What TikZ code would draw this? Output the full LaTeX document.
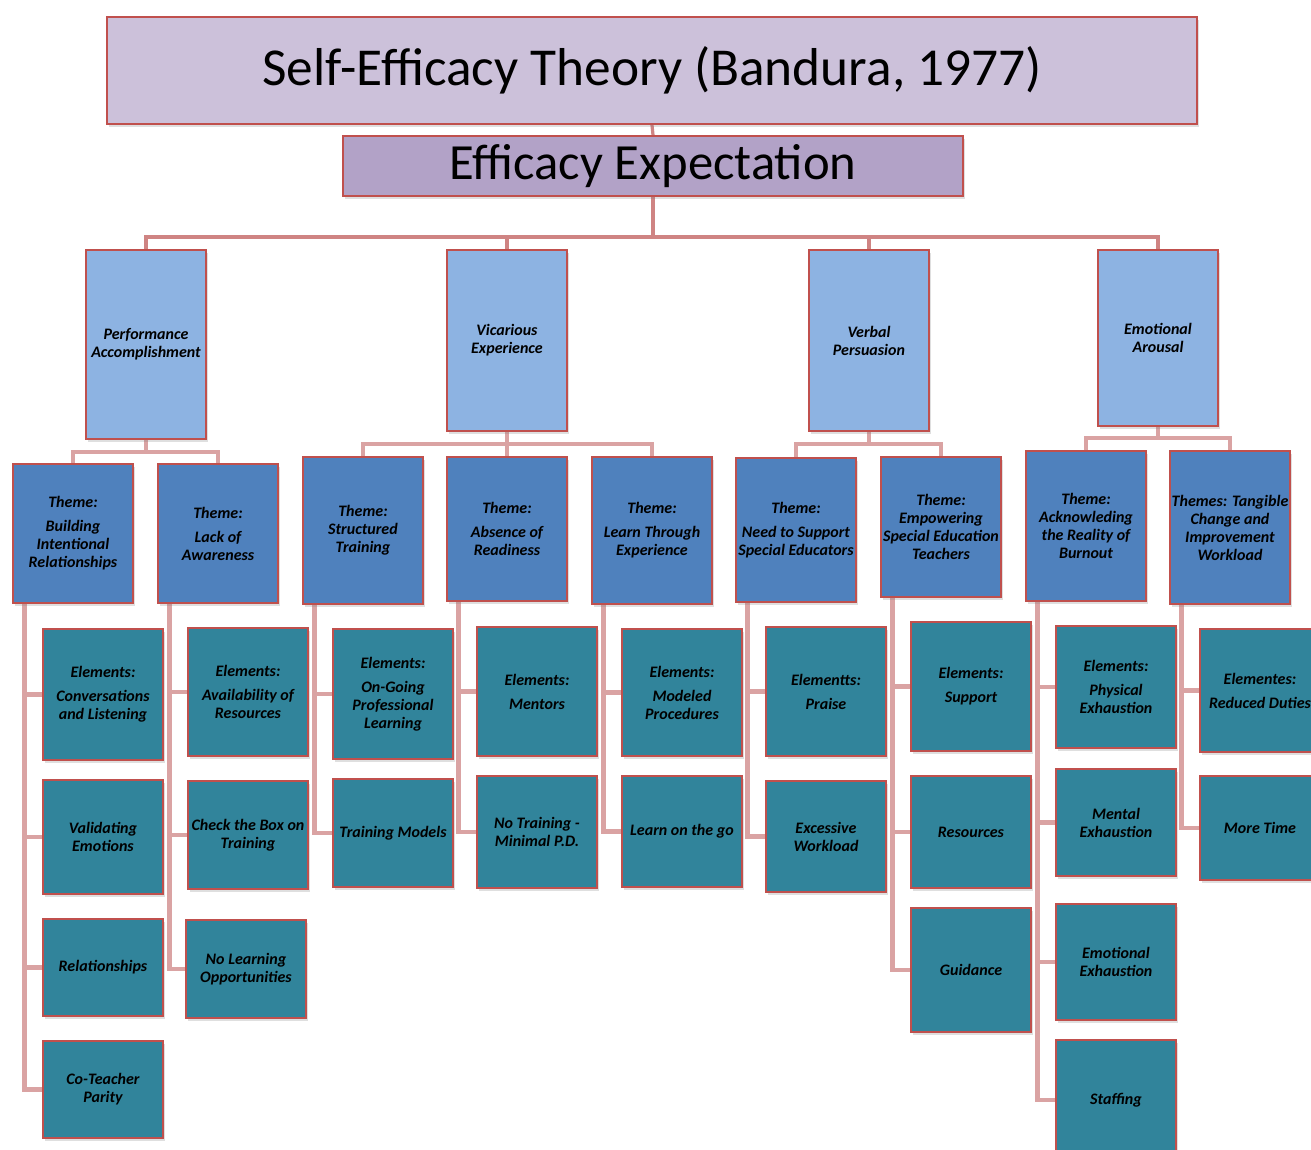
\documentclass[tikz,border=0pt]{standalone}
\usepackage{fontspec}
\setmainfont{Carlito}
\usetikzlibrary{shadows}
\pgfdeclarelayer{bottom}
\pgfdeclarelayer{background}
\pgfsetlayers{bottom,background,main}
\definecolor{bordred}{HTML}{C0504D}
\definecolor{lavtop}{HTML}{CCC1DA}
\definecolor{lavmid}{HTML}{B2A2C7}
\definecolor{lightblue}{HTML}{8DB3E2}
\definecolor{themeblue}{HTML}{4F81BD}
\definecolor{teal}{HTML}{31849B}
\definecolor{connA}{HTML}{CF8483}
\definecolor{connB}{HTML}{DAA3A3}
\tikzset{
  boxbase/.style={draw=bordred, line width=1.5pt, inner sep=0pt, align=center,
    drop shadow={opacity=0.25, shadow xshift=1.2pt, shadow yshift=-2pt}},
  titlebox/.style={boxbase, fill=lavtop, font=\fontsize{40}{46}\selectfont},
  effbox/.style={boxbase, fill=lavmid, font=\fontsize{38}{44}\selectfont},
  catbox/.style={boxbase, fill=lightblue, font=\fontsize{12}{13.5}\selectfont\bfseries\itshape},
  themebox/.style={boxbase, fill=themeblue, font=\fontsize{12}{13.5}\selectfont\bfseries\itshape},
  elembox/.style={boxbase, fill=teal, font=\fontsize{12}{13.5}\selectfont\bfseries\itshape},
  connA/.style={draw=connA, line width=2.4pt},
  connB/.style={draw=connB, line width=3.4pt},
}
\newcommand\bx[7]{%
  \pgfmathsetmacro\bxw{(#4-#2)*0.75}%
  \pgfmathsetmacro\bxh{(#5-#3)*0.75}%
  \node[#6, minimum width=\bxw pt, minimum height=\bxh pt] (#1) at ({(#2+#4)/2},{(#3+#5)/2}) {#7};}
\newcommand\gap{\\[4.5pt]}
\newcommand\spine[2]{%
  \foreach \ee in {#2} {\draw[connB] ([xshift=9.5pt]#1.south west) |- (\ee.west);}}
\begin{document}
\begin{tikzpicture}[x=0.75pt,y=-0.75pt]
\useasboundingbox (0,0) rectangle (1311,1150);
\begin{pgfonlayer}{bottom}
\fill[white] (0,0) rectangle (1311,1150);
\end{pgfonlayer}
\clip (0,0) rectangle (1311,1150);
% bus levels
\coordinate (bus0) at (0,237);
\coordinate (busPA) at (0,452);
\coordinate (busVE) at (0,444);
\coordinate (busVP) at (0,444);
\coordinate (busEA) at (0,438);

% top
\bx{title}{107}{17}{1197}{124}{titlebox}{Self-Efficacy Theory (Bandura, 1977)}
\bx{eff}{343}{136}{963}{196}{effbox}{Efficacy Expectation}

% categories
\bx{pa}{86}{250}{206}{439}{catbox}{Performance\\Accomplishment}
\bx{ve}{447}{250}{567}{431}{catbox}{Vicarious\\Experience}
\bx{vp}{809}{250}{929}{431}{catbox}{Verbal\\Persuasion}
\bx{ea}{1098}{250}{1218}{426}{catbox}{Emotional\\Arousal}

% themes
\bx{t1}{13}{464}{133}{603}{themebox}{Theme:\gap Building\\Intentional\\Relationships}
\bx{t2}{158}{464}{278}{603}{themebox}{Theme:\gap Lack of\\Awareness}
\bx{t3}{303}{457}{423}{604}{themebox}{Theme:\\Structured\\Training}
\bx{t4}{447}{457}{567}{601}{themebox}{Theme:\gap Absence of\\Readiness}
\bx{t5}{592}{457}{712}{604}{themebox}{Theme:\gap Learn Through\\Experience}
\bx{t6}{736}{458}{856}{602}{themebox}{Theme:\gap Need to Support\\Special Educators}
\bx{t7}{881}{457}{1001}{597}{themebox}{Theme:\\Empowering\\Special Education\\Teachers}
\bx{t8}{1026}{451}{1146}{601}{themebox}{Theme:\\Acknowleding\\the Reality of\\Burnout}
\bx{t9}{1170}{451}{1290}{604}{themebox}{Themes: Tangible\\Change and\\Improvement\\Workload}

% elements column 1
\bx{e11}{43}{629}{163}{760}{elembox}{Elements:\gap Conversations\\and Listening}
\bx{e12}{43}{780}{163}{894}{elembox}{Validating\\Emotions}
\bx{e13}{43}{919}{163}{1016}{elembox}{Relationships}
\bx{e14}{43}{1041}{163}{1138}{elembox}{Co-Teacher\\Parity}
% column 2
\bx{e21}{188}{628}{308}{756}{elembox}{Elements:\gap Availability of\\Resources}
\bx{e22}{188}{781}{308}{889}{elembox}{Check the Box on\\Training}
\bx{e23}{186}{920}{306}{1018}{elembox}{No Learning\\Opportunities}
% column 3
\bx{e31}{333}{629}{453}{759}{elembox}{Elements:\gap On-Going\\Professional\\Learning}
\bx{e32}{333}{779}{453}{887}{elembox}{Training Models}
% column 4
\bx{e41}{477}{627}{597}{756}{elembox}{Elements:\gap Mentors}
\bx{e42}{477}{776}{597}{888}{elembox}{No Training -\\Minimal P.D.}
% column 5
\bx{e51}{622}{629}{742}{756}{elembox}{Elements:\gap Modeled\\Procedures}
\bx{e52}{622}{776}{742}{887}{elembox}{Learn on the go}
% column 6
\bx{e61}{766}{627}{886}{756}{elembox}{Elementts:\gap Praise}
\bx{e62}{766}{781}{886}{892}{elembox}{Excessive\\Workload}
% column 7
\bx{e71}{911}{622}{1031}{751}{elembox}{Elements:\gap Support}
\bx{e72}{911}{776}{1031}{888}{elembox}{Resources}
\bx{e73}{911}{908}{1031}{1032}{elembox}{Guidance}
% column 8
\bx{e81}{1056}{626}{1176}{748}{elembox}{Elements:\gap Physical\\Exhaustion}
\bx{e82}{1056}{769}{1176}{876}{elembox}{Mental\\Exhaustion}
\bx{e83}{1056}{904}{1176}{1020}{elembox}{Emotional\\Exhaustion}
\bx{e84}{1056}{1040}{1176}{1160}{elembox}{Staffing}
% column 9
\bx{e91}{1200}{629}{1320}{752}{elembox}{Elementes:\gap Reduced Duties}
\bx{e92}{1200}{776}{1320}{880}{elembox}{More Time}

\begin{pgfonlayer}{background}
% top connectors
\draw[connA] (title.south) -- (eff.north);
\draw[connA] (eff.south) -- (eff.south |- bus0);
\draw[connA] (pa.north) -- (pa.north |- bus0) -- (ea.north |- bus0) -- (ea.north);
\draw[connA] (ve.north) -- (ve.north |- bus0);
\draw[connA] (vp.north) -- (vp.north |- bus0);
% category to themes
\draw[connB] (pa.south) -- (pa.south |- busPA);
\draw[connB] (t1.north) -- (t1.north |- busPA) -- (t2.north |- busPA) -- (t2.north);
\draw[connB] (ve.south) -- (ve.south |- busVE);
\draw[connB] (t3.north) -- (t3.north |- busVE) -- (t5.north |- busVE) -- (t5.north);
\draw[connB] (t4.north) -- (t4.north |- busVE);
\draw[connB] (vp.south) -- (vp.south |- busVP);
\draw[connB] (t6.north) -- (t6.north |- busVP) -- (t7.north |- busVP) -- (t7.north);
\draw[connB] (ea.south) -- (ea.south |- busEA);
\draw[connB] (t8.north) -- (t8.north |- busEA) -- (t9.north |- busEA) -- (t9.north);
% themes to elements
\spine{t1}{e11,e12,e13,e14}
\spine{t2}{e21,e22,e23}
\spine{t3}{e31,e32}
\spine{t4}{e41,e42}
\spine{t5}{e51,e52}
\spine{t6}{e61,e62}
\spine{t7}{e71,e72,e73}
\spine{t8}{e81,e82,e83,e84}
\spine{t9}{e91,e92}
\end{pgfonlayer}
\end{tikzpicture}
\end{document}
